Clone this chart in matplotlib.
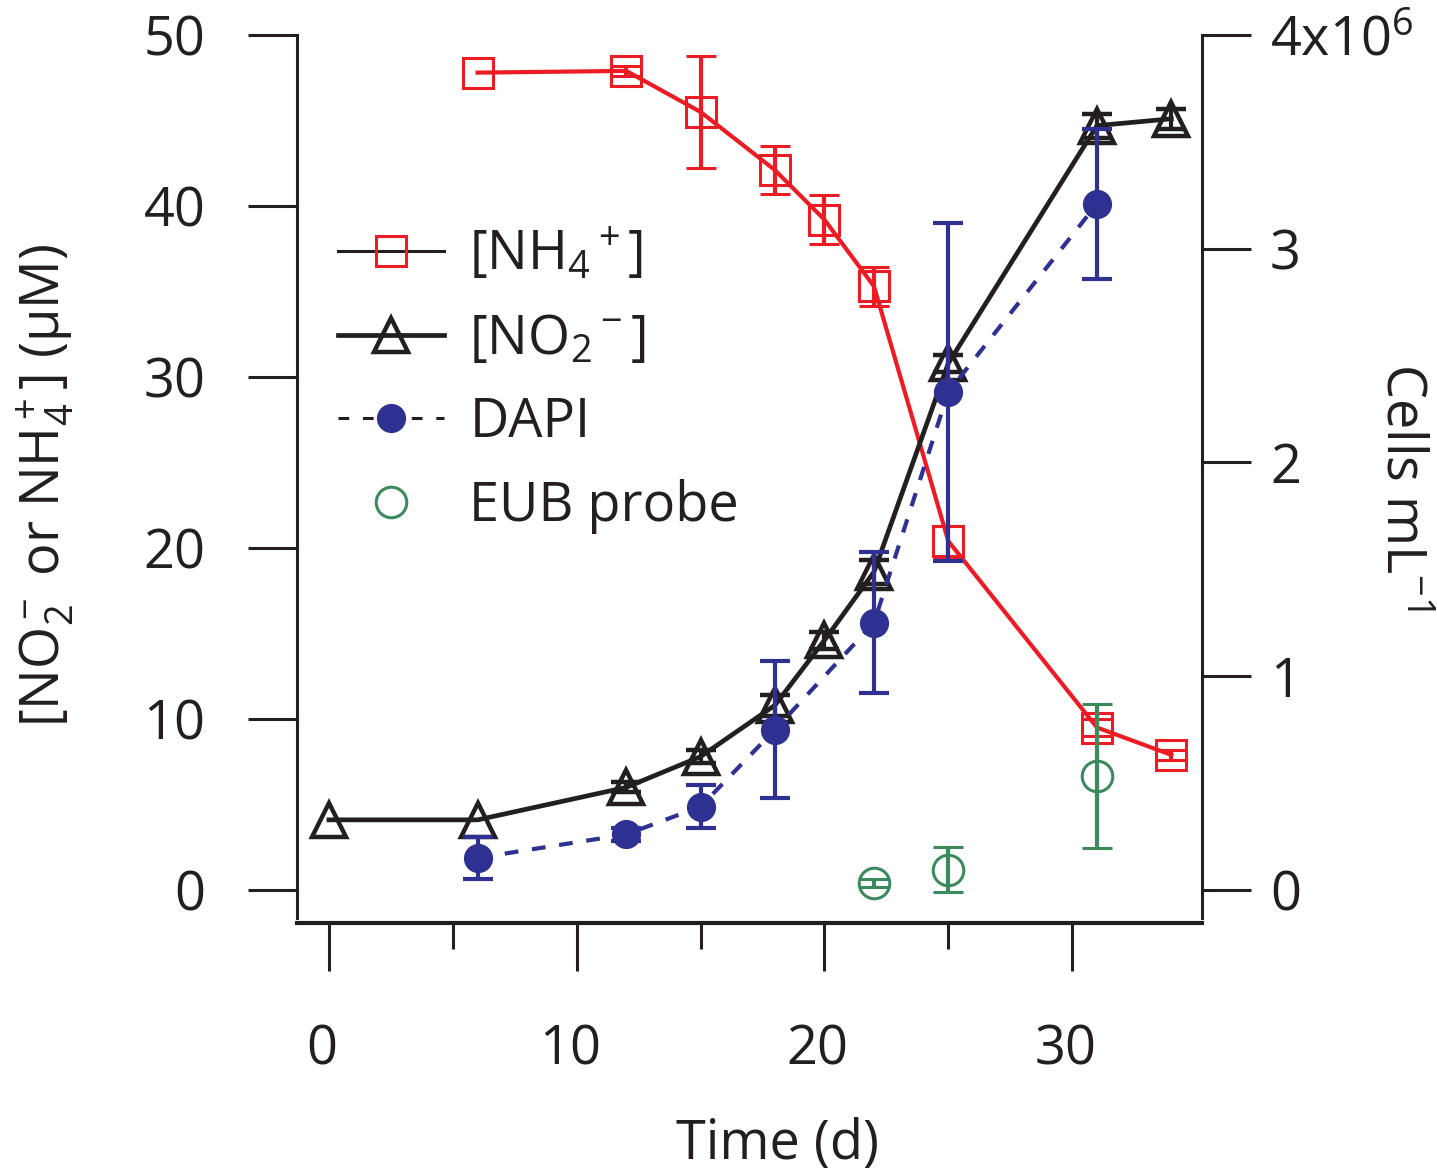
import numpy as np
import matplotlib.pyplot as plt
from matplotlib.lines import Line2D
from matplotlib.transforms import ScaledTranslation

plt.rcParams['font.family'] = ['Open Sans', 'DejaVu Sans']
plt.rcParams['mathtext.fontset'] = 'custom'
plt.rcParams['mathtext.rm'] = 'Open Sans'
plt.rcParams['mathtext.it'] = 'Open Sans:italic'
plt.rcParams['mathtext.bf'] = 'Open Sans:bold'

RED = '#ed1c24'
BLACK = '#231f20'
BLUE = '#2e3192'
GREEN = '#3b8a5e'

# ammonium (uM)
nh4_day = [6, 12, 15, 18, 20, 22, 25, 31, 34]
nh4_val = [47.8, 47.9, 45.5, 42.1, 39.2, 35.3, 20.4, 9.5, 7.9]
nh4_err = [np.nan, 0.3, 3.3, 1.4, 1.45, 1.15, 0.9, 0.5, 0.3]

# nitrite (uM)
no2_day = [0, 6, 12, 15, 18, 20, 22, 25, 31, 34]
no2_val = [4.1, 4.1, 6.0, 7.8, 10.8, 14.6, 18.6, 30.8, 44.7, 45.1]
no2_err = [np.nan, np.nan, 0.3, 0.4, 0.6, 0.5, 0.7, 0.5, 0.7, 0.6]

# cell counts (x1e6 cells/mL)
dapi_day = [6, 12, 15, 18, 22, 25, 31]
dapi_val = [0.15, 0.26, 0.39, 0.75, 1.25, 2.33, 3.21]
dapi_err = [0.10, 0.03, 0.10, 0.32, 0.33, 0.79, 0.35]

eub_day = [22, 25, 31]
eub_val = [0.033, 0.094, 0.533]
eub_err = [0.02, 0.105, 0.337]

W, H = 1437, 1173
fig = plt.figure(figsize=(W / 100, H / 100), dpi=100)
ax = fig.add_axes([297 / W, 1 - 918 / H, 905 / W, 883 / H])
ax.set_xlim(-1.29, 35.24)
ax.set_ylim(-1.64, 50)
ax2 = ax.twinx()
ax2.set_ylim(-1.64 / 50 * 4, 4)

ax.errorbar(nh4_day, nh4_val, yerr=nh4_err, color=RED, lw=3, marker='s', ms=21,
            mfc='none', mec=RED, mew=2.2, ecolor=RED, elinewidth=3,
            capsize=11, capthick=3)
ax.errorbar(no2_day, no2_val, yerr=no2_err, color=BLACK, lw=3.4, marker='^', ms=25,
            mfc='none', mec=BLACK, mew=3.2, ecolor=BLACK, elinewidth=3,
            capsize=11, capthick=3)
ax2.errorbar(dapi_day, dapi_val, yerr=dapi_err, color=BLUE, lw=3, ls=(0, (3.3, 3.3)),
             marker='o', ms=20, mfc=BLUE, mec=BLUE, ecolor=BLUE, elinewidth=3,
             capsize=11, capthick=3)
ax2.errorbar(eub_day, eub_val, yerr=eub_err, ls='none', marker='o', ms=22,
             mfc='none', mec=GREEN, mew=2.2, ecolor=GREEN, elinewidth=3,
             capsize=11, capthick=3)

# axes / ticks
ax.set_xticks([0, 10, 20, 30])
ax.set_xticks([5, 15, 25], minor=True)
ax.set_yticks(range(0, 51, 10))
ax2.set_yticks([0, 1, 2, 3, 4])
ax2.set_yticklabels(['0', '1', '2', '3', r'4x10$^6$'])

ax.tick_params(axis='x', which='major', direction='out', length=34.5, width=2.2,
               pad=37, labelsize=39, color=BLACK, labelcolor=BLACK)
ax.tick_params(axis='x', which='minor', direction='out', length=19, width=2.2, color=BLACK)
ax.tick_params(axis='y', direction='out', length=35, width=2.2, pad=31,
               labelsize=39, color=BLACK, labelcolor=BLACK)
ax2.tick_params(axis='y', direction='out', length=35, width=2.2, pad=14,
                labelsize=39, color=BLACK, labelcolor=BLACK)

for s in ['top', 'right']:
    ax.spines[s].set_visible(False)
for s in ['top', 'left', 'bottom']:
    ax2.spines[s].set_visible(False)
ax.spines['bottom'].set_position(('outward', 3.6))
ax.spines['bottom'].set_linewidth(3)
ax.spines['left'].set_linewidth(2.2)
ax2.spines['right'].set_linewidth(2.2)
for sp in [ax.spines['bottom'], ax.spines['left'], ax2.spines['right']]:
    sp.set_color(BLACK)

shift = ScaledTranslation(-7 / 100, 0, fig.dpi_scale_trans)
for lab in ax.get_xticklabels():
    lab.set_transform(lab.get_transform() + shift)

# axis labels
ax.set_xlabel('Time (d)', fontsize=39, color=BLACK)
ax.xaxis.label.set_va('center')
ax.xaxis.set_label_coords(0.531, -0.256)
ax.set_ylabel(r'[NO$_2^-$ or NH$_4^+$] (μM)', fontsize=39, color=BLACK)
ax.yaxis.label.set_va('center')
ax.yaxis.set_label_coords(-0.278, 0.49)
ax2.set_ylabel(r'Cells mL$^{-1}$', fontsize=39, color=BLACK, rotation=270)
ax2.yaxis.label.set_va('center')
ax2.yaxis.set_label_coords(1.221, 0.488)

# legend
h1 = Line2D([], [], color=BLACK, lw=2.2, marker='s', ms=21, mfc='none', mec=RED, mew=2.2)
h2 = Line2D([], [], color=BLACK, lw=3.4, marker='^', ms=25, mfc='none', mec=BLACK, mew=3.2)
h3 = Line2D([], [], color=BLACK, lw=2.2, ls=(0, (3.5, 4.5)), marker='o', ms=20,
            mfc=BLUE, mec=BLUE)
h4 = Line2D([], [], ls='none', marker='o', ms=22, mfc='none', mec=GREEN, mew=2.2)
ax2.legend([h1, h2, h3, h4],
           [r'[NH$_4{}^+$]', r'[NO$_2{}^-$]', 'DAPI', 'EUB probe'],
           loc='upper left', bbox_to_anchor=(0.045, 0.783), frameon=False,
           fontsize=39, handlelength=1.97, handletextpad=0.46, labelspacing=0.53,
           borderpad=0, borderaxespad=0, labelcolor=BLACK)

fig.savefig('out.png', dpi=100)
